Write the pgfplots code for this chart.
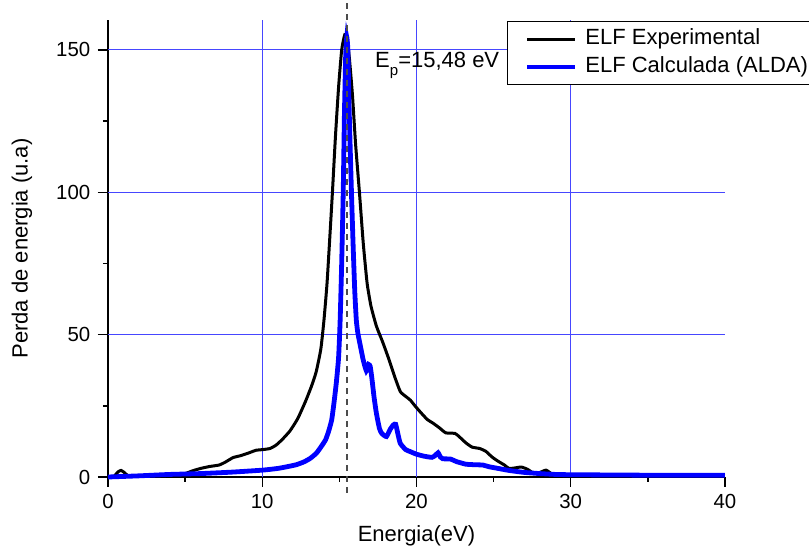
\documentclass[border=0pt]{standalone}
\usepackage{pgfplots}
\pgfplotsset{compat=1.18}
\usepackage{fontspec}
\setmainfont{Liberation Sans}
\definecolor{gridblue}{RGB}{70,70,255}
\begin{document}
\fontsize{11}{13}\selectfont
\begin{tikzpicture}
\path[use as bounding box] (-54pt,-36.5pt) rectangle (350.5pt,238.5pt);
\begin{axis}[
  at={(0pt,0pt)}, anchor=south west,
  scale only axis, width=308.5pt, height=228.5pt,
  xmin=0, xmax=40, ymin=0, ymax=160.5,
  axis x line*=bottom, axis y line*=left,
  axis line style={line width=0.9pt, -},
  xtick={0,10,20,30,40}, ytick={0,50,100,150},
  minor x tick num=1, minor y tick num=1,
  tick align=outside,
  major tick length=5pt, minor tick length=2.5pt,
  every tick/.style={black, line width=0.7pt},
  extra x ticks={10,20,30}, extra x tick labels={},
  extra y ticks={50,100,150}, extra y tick labels={},
  extra tick style={grid=major},
  major grid style={gridblue, line width=0.6pt},
  clip=false,
  /pgf/number format/assume math mode=true,
  tick label style={font=\fontsize{10.2}{12}\selectfont},
  xlabel={Energia(eV)}, ylabel={Perda de energia (u.a)},
  x label style={at={(axis description cs:0.5,-0.1291)}, anchor=center},
  y label style={at={(axis description cs:-0.1394,0.5)}, anchor=center, rotate=0},
  label style={font=\fontsize{11}{13}\selectfont},
  legend cell align=left,
  legend image code/.code={\path (0pt,0pt); \draw[#1] (6.5pt,0pt) -- (30.5pt,0pt);},
  legend style={at={(axis description cs:0.6467,0.998)}, anchor=north west,
    draw=black, line width=0.6pt, inner xsep=2pt, inner ysep=3.5pt,
    column sep=4pt, row sep=3.5pt,
    font=\fontsize{11}{13}\selectfont,
    nodes={inner sep=0pt, text height=8pt, text depth=2.5pt}},
]
\addplot[black, line width=1.5pt, smooth, tension=0.3] coordinates {
(0,0) (0.4,0.3) (0.65,1.8) (0.85,2.3) (1.05,1.6) (1.3,0.4) (1.6,0.2) (2.5,0.3)
(3.5,0.5) (4.5,0.8) (5.0,1.2) (5.5,2.2) (6.0,3.0) (6.6,3.7) (7.2,4.2) (7.6,5.2)
(8.1,6.8) (8.6,7.5) (9.1,8.4) (9.6,9.4) (10.0,9.6) (10.5,10.0) (10.9,11.2)
(11.3,13.2) (11.8,16.2) (12.3,20.5) (12.8,26.5) (13.2,32) (13.5,37) (13.8,45)
(14.0,55) (14.2,68) (14.4,86) (14.55,100) (14.75,120) (14.95,137) (15.15,150)
(15.35,155.3) (15.5,153.5) (15.65,147) (15.85,134) (16.05,117) (16.3,100)
(16.55,82) (16.8,68) (17.05,60) (17.4,53) (17.8,47.5) (18.2,41.5) (18.6,35)
(18.95,30) (19.3,28.3) (19.6,27) (19.9,25) (20.3,22.5) (20.7,20.2) (21.1,18.8)
(21.5,17.2) (21.9,15.5) (22.5,15.3) (22.8,14) (23.2,12) (23.6,10.5) (24.1,10)
(24.5,9) (24.9,7) (25.3,5.5) (25.7,4.2) (26.0,3.0) (26.4,3.2) (26.8,3.5)
(27.2,2.7) (27.6,1.3) (28.0,1.6) (28.4,2.4) (28.8,1.0) (29.2,0.9) (30,0.7)
(32,0.6) (35,0.5) (40,0.4)
};
\addlegendentry{ELF Experimental}
\addplot[blue, line width=2.4pt, smooth, tension=0.3] coordinates {
(0,0) (2,0.4) (4,0.9) (6,1.2) (8,1.7) (10,2.4) (11,3.0) (11.6,3.6) (12.2,4.3)
(12.7,5.3) (13.1,6.5) (13.5,8.3) (13.8,10.5) (14.1,13) (14.3,16) (14.5,20)
(14.65,26) (14.8,33) (14.95,42) (15.05,55) (15.15,75) (15.25,100) (15.33,128)
(15.41,148) (15.48,154.5) (15.55,150) (15.62,132) (15.72,112) (15.8,97)
(15.9,80) (16.0,65) (16.1,55) (16.2,50.5) (16.4,45) (16.55,41) (16.75,37.3)
(16.9,39.5) (17.0,38.8) (17.1,35) (17.25,28) (17.4,22.4) (17.6,17) (17.75,15.3)
(18.05,14.2) (18.3,16.8) (18.5,18.3) (18.65,18.5) (18.8,15) (18.95,11.8)
(19.3,9.6) (19.6,8.9) (20.0,8.0) (20.5,7.3) (21.0,6.9) (21.2,7.5) (21.4,8.5)
(21.55,7.0) (21.7,6.4) (22.2,6.3) (22.6,5.4) (23.2,4.5) (23.8,4.3) (24.3,4.2)
(24.7,3.6) (25.3,3.0) (26,2.3) (27,1.6) (28,1.2) (29,0.9) (30,0.8) (33,0.7)
(36,0.6) (40,0.6)
};
\addlegendentry{ELF Calculada (ALDA)}
\addplot[black!70, line width=0.9pt, dash pattern=on 3pt off 2.5pt, forget plot]
  coordinates {(15.48,-5.5) (15.48,167.5)};
\node[anchor=base west, inner sep=0pt, font=\fontsize{11}{13}\selectfont]
  at (axis cs:17.3,143.7) {E\raisebox{-4pt}{\fontsize{7.5}{8}\selectfont p}=15,48 eV};
\end{axis}
\end{tikzpicture}
\end{document}
